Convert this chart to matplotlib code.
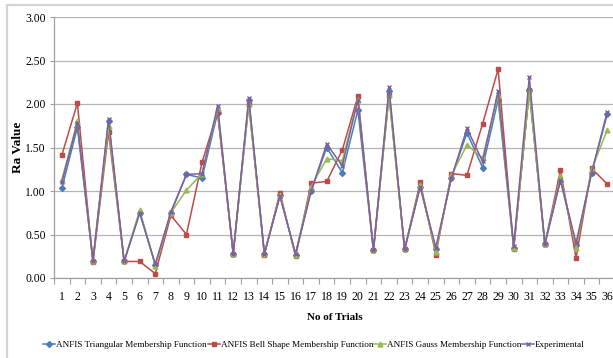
import matplotlib
matplotlib.use("Agg")
import matplotlib.pyplot as plt
from matplotlib.patches import Rectangle

trials = list(range(1, 37))
triangular = [1.03, 1.73, 0.20, 1.80, 0.19, 0.75, 0.15, 0.75, 1.19, 1.15,
              1.90, 0.28, 2.05, 0.28, 0.95, 0.27, 1.00, 1.50, 1.21, 1.93,
              0.32, 2.15, 0.33, 1.05, 0.33, 1.15, 1.67, 1.27, 2.05, 0.35,
              2.16, 0.39, 1.12, 0.38, 1.21, 1.88]
bell = [1.41, 2.01, 0.18, 1.68, 0.19, 0.19, 0.05, 0.72, 0.50, 1.33,
        1.91, 0.28, 2.00, 0.27, 0.98, 0.25, 1.09, 1.11, 1.47, 2.09,
        0.32, 2.10, 0.33, 1.10, 0.27, 1.20, 1.18, 1.77, 2.40, 0.33,
        2.16, 0.39, 1.24, 0.23, 1.26, 1.08]
gauss = [1.13, 1.80, 0.20, 1.75, 0.19, 0.78, 0.14, 0.75, 1.01, 1.20,
         1.95, 0.28, 2.00, 0.28, 0.95, 0.27, 1.05, 1.37, 1.35, 2.05,
         0.32, 2.10, 0.33, 1.07, 0.30, 1.18, 1.53, 1.38, 2.10, 0.35,
         2.16, 0.39, 1.17, 0.34, 1.25, 1.70]
experimental = [1.10, 1.78, 0.20, 1.83, 0.19, 0.75, 0.16, 0.76, 1.19, 1.20,
                1.98, 0.28, 2.07, 0.28, 0.94, 0.28, 1.00, 1.54, 1.29, 2.05,
                0.32, 2.19, 0.33, 1.05, 0.35, 1.15, 1.72, 1.34, 2.15, 0.37,
                2.31, 0.39, 1.13, 0.40, 1.21, 1.91]
series_names = ["ANFIS Triangular Membership Function",
                "ANFIS Bell Shape Membership Function",
                "ANFIS Gauss Membership Function",
                "Experimental"]
yticks = [0.0, 0.5, 1.0, 1.5, 2.0, 2.5, 3.0]

plt.rcParams['font.family'] = ['Liberation Serif', 'DejaVu Serif']

W, H = 613, 358
fig = plt.figure(figsize=(W / 100, H / 100), dpi=100)
fig.patches.append(Rectangle((7 / W, -0.1), 1.2, (H - 5) / H + 0.1,
                             transform=fig.transFigure, fill=False,
                             edgecolor='#d4d4d4', linewidth=1.6))

ax = fig.add_axes([54 / W, 80 / H, (615 - 54) / W, (278 - 17) / H])
styles = [
    dict(color='#4A7EBB', marker='D', markersize=3),
    dict(color='#BE4B48', marker='s', markersize=3.5),
    dict(color='#98B954', marker='^', markersize=3.5),
    dict(color='#7D60A0', marker='x', markersize=3.5, markeredgewidth=1.0),
]
for vals, name, st in zip([triangular, bell, gauss, experimental], series_names, styles):
    ax.plot(trials, vals, linewidth=1.1, label=name, **st)

ax.set_xlim(0.5, 36.5)
ax.set_ylim(0, 3)
ax.set_yticks(yticks)
ax.set_yticklabels([f"{v:.2f}" for v in yticks], fontsize=8.4)
ax.set_xticks(trials)
ax.set_xticklabels([str(t) for t in trials], fontsize=8.6)
ax.set_xticks([t + 0.5 for t in range(0, 37)], minor=True)
ax.tick_params(axis='x', which='major', length=0, pad=9)
ax.tick_params(axis='x', which='minor', length=4, color='#a0a0a0', width=0.8)
ax.tick_params(axis='y', length=3, color='#a0a0a0', width=0.8, pad=3)
ax.grid(axis='y', color='#b4b4b4', linewidth=0.9)
ax.set_axisbelow(True)
for s in ['top', 'right']:
    ax.spines[s].set_visible(False)
for s in ['left', 'bottom']:
    ax.spines[s].set_color('#a0a0a0')
    ax.spines[s].set_linewidth(0.9)

fig.text(18 / W, 1 - 147 / H, "Ra Value", fontsize=9.5, fontweight='bold',
         rotation=90, ha='center', va='center')
fig.text(335 / W, 1 - 317 / H, "No of Trials", fontsize=8, fontweight='bold',
         ha='center', va='center')

fig.legend(loc='center', bbox_to_anchor=(314 / W, 13 / H), ncol=4,
           frameon=False, fontsize=6.6, handlelength=1.3, handletextpad=0.1,
           columnspacing=0.1, borderpad=0)

fig.savefig("out.png", dpi=100)
